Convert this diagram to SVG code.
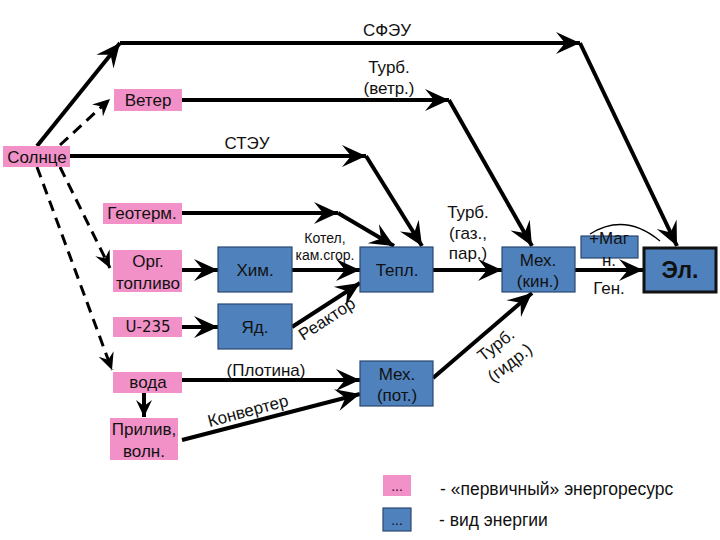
<svg xmlns="http://www.w3.org/2000/svg" width="720" height="540" viewBox="0 0 720 540">
<style>
text{font-family:"Liberation Sans",Arial,sans-serif;fill:#111;text-anchor:middle;dominant-baseline:central}
.p{fill:#F291C7;stroke:none}
.b{fill:#4F81BD;stroke:#2A4870;stroke-width:1.2}
.n{font-size:17px}
.l{font-size:17px}
.s{font-size:14px}
.c{fill:none;stroke:#000;stroke-width:4}
.d{fill:none;stroke:#000;stroke-width:3;stroke-dasharray:11 7}
</style>
<defs>
<marker id="a" markerUnits="userSpaceOnUse" viewBox="-26 -12 28 24" markerWidth="28" markerHeight="24" refX="0" refY="0" orient="auto">
<path d="M0,0 L-24,-11 L-15,0 L-24,11 Z" fill="#000"/>
</marker>
<marker id="as" markerUnits="userSpaceOnUse" viewBox="-20 -10 22 20" markerWidth="22" markerHeight="20" refX="0" refY="0" orient="auto">
<path d="M0,0 L-17,-8 L-11,0 L-17,8 Z" fill="#000"/>
</marker>
</defs>
<rect width="720" height="540" fill="#fff"/>
<g id="connectors">
<path class="c" d="M37,146 L120,43" marker-end="url(#a)"/>
<path class="c" d="M120,43 L580,43" marker-end="url(#a)"/>
<path class="c" d="M580,43 L677,246" marker-end="url(#a)"/>
<path class="d" d="M60,145 L110,99" marker-end="url(#as)"/>
<path class="c" d="M182,100 L449,100" marker-end="url(#a)"/>
<path class="c" d="M449,100 L532,246" marker-end="url(#a)"/>
<path class="c" d="M70,156 L366,156" marker-end="url(#a)"/>
<path class="c" d="M366,156 L422,246" marker-end="url(#a)"/>
<path class="c" d="M182,213 L338,213" marker-end="url(#a)"/>
<path class="c" d="M338,213 L394,246" marker-end="url(#a)"/>
<path class="d" d="M60,167 L110,268" marker-end="url(#as)"/>
<path class="d" d="M37,167 L112,370" marker-end="url(#as)"/>
<path class="c" d="M182,270 L218,270" marker-end="url(#a)"/>
<path class="c" d="M182,327 L218,327" marker-end="url(#a)"/>
<path class="c" d="M292,270 L360,270" marker-end="url(#a)"/>
<path class="c" d="M292,327 L360,283" marker-end="url(#a)"/>
<path class="c" d="M182,380 L360,380" marker-end="url(#a)"/>
<path class="c" d="M182,440 L360,394" marker-end="url(#a)"/>
<path class="c" d="M144,393 L144,417" marker-end="url(#as)"/>
<path class="c" d="M433,270 L502,270" marker-end="url(#a)"/>
<path class="c" d="M433,378 L532,293" marker-end="url(#a)"/>
<path class="c" d="M575,270 L643,270" marker-end="url(#a)"/>
<path d="M590,234 Q625,212 660,241" fill="none" stroke="#000" stroke-width="1.3"/>
</g>
<g id="labels">
<text class="l" x="387" y="30">СФЭУ</text>
<text class="l" x="389" y="67">Турб.</text>
<text class="l" x="389" y="88">(ветр.)</text>
<text class="l" x="247" y="143">СТЭУ</text>
<text class="s" x="325" y="238">Котел,</text>
<text class="s" x="325" y="255">кам.сгор.</text>
<text class="l" x="468" y="212">Турб.</text>
<text class="l" x="468" y="233">(газ.,</text>
<text class="l" x="468" y="253">пар.)</text>
<text class="l" x="266" y="370">(Плотина)</text>
<text class="l" x="327" y="319" transform="rotate(-33 327 319)">Реактор</text>
<text class="l" x="248" y="411" transform="rotate(-15 248 411)">Конвертер</text>
<text class="l" x="496" y="345" transform="rotate(-38 496 345)">Турб.</text>
<text class="l" x="510" y="363" transform="rotate(-38 510 363)">(гидр.)</text>
<text class="l" x="609" y="288">Ген.</text>
</g>
<g id="n-sun"><rect class="p" x="3" y="146" width="67" height="21"/><text class="n" x="37" y="157">Солнце</text></g>
<g id="n-wind"><rect class="p" x="114" y="89" width="68" height="22"/><text class="n" x="148" y="100">Ветер</text></g>
<g id="n-geo"><rect class="p" x="103" y="203" width="79" height="21"/><text class="n" x="142" y="213">Геотерм.</text></g>
<g id="n-fuel"><rect class="p" x="113" y="250" width="69" height="42"/><text class="n" x="148" y="261">Орг.</text><text class="n" x="148" y="283">топливо</text></g>
<g id="n-u235"><rect class="p" x="113" y="317" width="69" height="20"/><text class="n" x="148" y="327" style="font-family:'DejaVu Sans',sans-serif;font-size:15px">U-235</text></g>
<g id="n-water"><rect class="p" x="113" y="372" width="69" height="21"/><text class="n" x="148" y="382">вода</text></g>
<g id="n-tide"><rect class="p" x="110" y="418" width="68" height="42"/><text class="n" x="144" y="429">Прилив,</text><text class="n" x="144" y="451">волн.</text></g>
<g id="n-chem"><rect class="b" x="218" y="247" width="74" height="45"/><text class="n" x="255" y="270">Хим.</text></g>
<g id="n-nuc"><rect class="b" x="218" y="304" width="74" height="45"/><text class="n" x="255" y="327">Яд.</text></g>
<g id="n-heat"><rect class="b" x="360" y="247" width="73" height="45"/><text class="n" x="397" y="270">Тепл.</text></g>
<g id="n-mkin"><rect class="b" x="502" y="247" width="73" height="45"/><text class="n" x="538" y="260">Мех.</text><text class="n" x="538" y="281">(кин.)</text></g>
<g id="n-mpot"><rect class="b" x="360" y="361" width="73" height="45"/><text class="n" x="397" y="374">Мех.</text><text class="n" x="397" y="395">(пот.)</text></g>
<g id="n-el"><rect x="644" y="248" width="72" height="44" fill="#4F81BD" stroke="#111" stroke-width="3"/><text x="680" y="270" style="font-size:23px;font-weight:bold">Эл.</text></g>
<g id="n-magn"><rect class="b" x="581" y="236" width="57" height="22"/><text class="n" x="609" y="238" fill="#222">+Маг</text><text class="n" x="609" y="260" fill="#222">н.</text></g>
<g id="legend">
<rect class="p" x="383" y="475" width="28" height="21"/><text x="397" y="486" style="font-size:14px;fill:#402">...</text>
<rect class="b" x="383" y="508" width="28" height="23"/><text x="397" y="520" style="font-size:14px">...</text>
<text x="440" y="489" style="font-size:17.5px;text-anchor:start">- «первичный» энергоресурс</text>
<text x="439" y="520" style="font-size:17.5px;text-anchor:start">- вид энергии</text>
</g>
</svg>
